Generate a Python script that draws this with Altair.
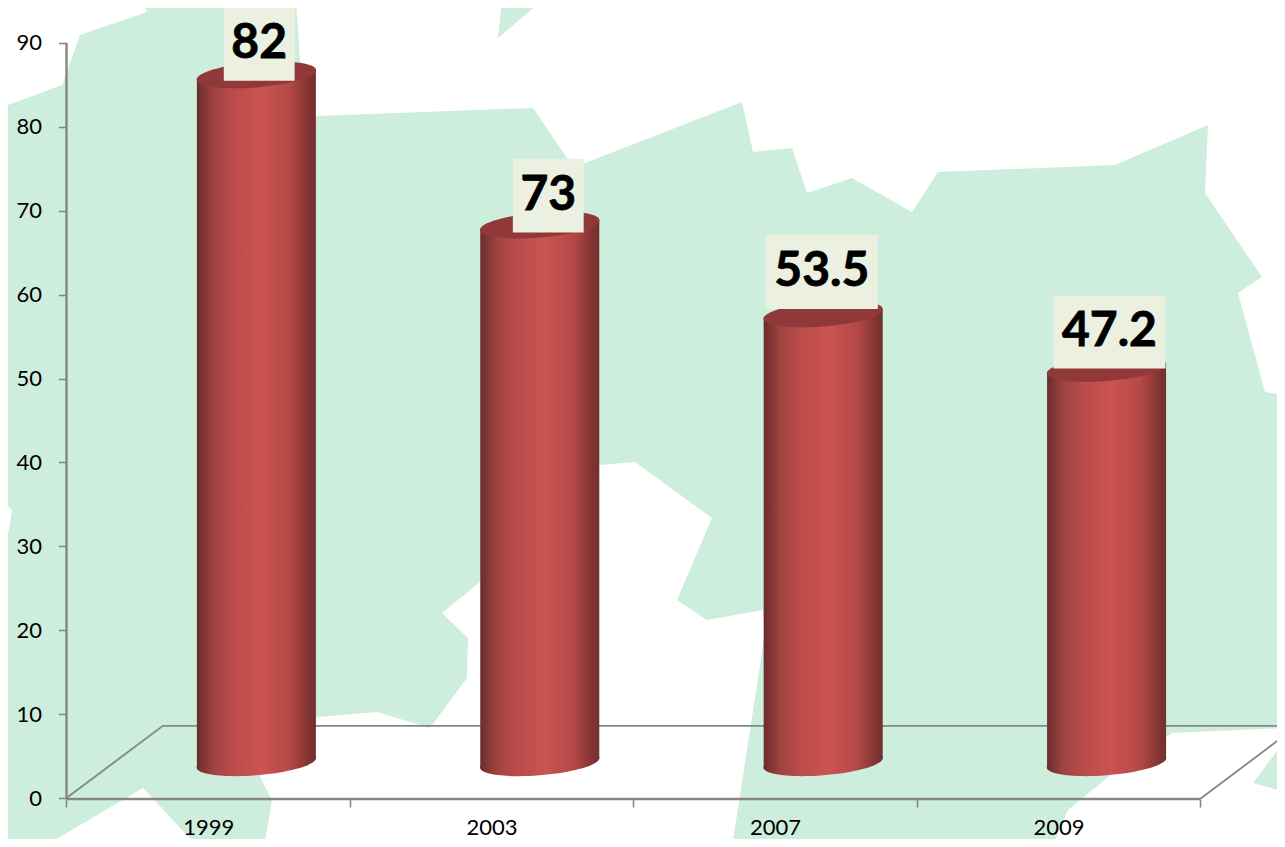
import altair as alt
import pandas as pd

# ---- chart values ----
years = ["1999", "2003", "2007", "2009"]
value_labels = ["82", "73", "53.5", "47.2"]
# drawn height of each cylinder's top on the y axis (the 3D drawing sits above the labels)
cylinder_tops = [86.2, 68.3, 57.7, 51.2]
cylinder_base = 4.2
cylinder_slot = [0.67, 1.67, 2.67, 3.67]  # position along the category axis
label_slot = [0.68, 1.70, 2.665, 3.68]
box_half = [0.125, 0.125, 0.198, 0.198]
box_tops = [94.3, 76.2, 67.1, 59.9]
box_bottoms = [85.5, 67.4, 58.3, 51.2]
y_ticks = [0, 10, 20, 30, 40, 50, 60, 70, 80, 90]
x_ticks = [0, 0.5, 1, 1.5, 2, 2.5, 3, 3.5, 4]

# background map (white parts over the green page), in picture coordinates
white_top_left = [[0, 0], [142, 0], [147, 12], [80, 35], [62, 85], [0, 108]]
white_top = [[296, 0], [502, 0], [498, 38], [543, 0], [1285, 0], [1285, 395], [1265, 392],
             [1238, 293], [1262, 277], [1205, 193], [1208, 125], [1115, 165], [938, 172],
             [912, 212], [852, 178], [807, 193], [792, 148], [753, 152], [742, 102],
             [585, 163], [567, 158], [533, 108], [316, 116], [300, 60]]
white_left = [[0, 498], [12, 510], [3, 565], [0, 566]]
white_bottom_left = [[43, 847], [143, 788], [198, 847]]
white_centre = [[317, 717], [377, 712], [430, 728], [467, 678], [468, 638], [442, 613],
                [480, 582], [600, 465], [635, 462], [712, 518], [677, 600], [707, 620],
                [763, 610], [765, 633], [732, 847], [264, 847], [272, 800], [260, 777]]
white_bottom_right = [[1285, 728], [1172, 733], [1108, 777], [1068, 810], [1052, 847],
                      [1285, 847], [1285, 792], [1253, 783], [1285, 740]]
white_rings = [white_top_left, white_top, white_left, white_bottom_left, white_centre, white_bottom_right]

# floor of the 3D box and the axis lines: [x on the axis, y on the axis] ends
frame_lines = {
    "yaxis": [[0, 0], [0, 90]],
    "xaxis": [[0, -0.12], [4, -0.12]],
    "floor_left": [[0, 0], [0.34, 8.6], [4.3, 8.6]],
    "floor_right": [[4, -0.12], [4.3, 7.5]],
}
frame_widths = {"yaxis": 2.4, "xaxis": 2.4, "floor_left": 1.8, "floor_right": 1.8}

GREEN = "#cdeedc"
AXIS = "#868686"
BODY = {
    "x1": 0, "x2": 1, "y1": 0, "y2": 0, "gradient": "linear",
    "stops": [
        {"offset": 0, "color": "#6b2c2c"},
        {"offset": 0.14, "color": "#a04341"},
        {"offset": 0.3, "color": "#b94c4a"},
        {"offset": 0.54, "color": "#cb5351"},
        {"offset": 0.78, "color": "#b54947"},
        {"offset": 0.95, "color": "#7e3331"},
        {"offset": 1, "color": "#703030"},
    ],
}

PX, PY = 66.5, 798.0   # where 0/0 sits in the picture
UX, UY = 283.4, 8.389  # picture pixels per axis unit
xs = alt.Scale(domain=[(8 - PX) / UX, (1277 - PX) / UX], nice=False, zero=False)
ys = alt.Scale(domain=[(PY - 839) / UY, (PY - 8) / UY], nice=False, zero=False)

x_axis = alt.Axis(
    values=x_ticks, orient="bottom", offset=-40, domain=False, grid=False, title=None, zindex=1,
    tickColor=AXIS, tickWidth=1.6, tickSize=8,
    tickOpacity={"condition": {"test": "datum.value % 1 === 0", "value": 1}, "value": 0},
    labelExpr="datum.value % 1 === 0 ? '' : ['1999','2003','2007','2009'][floor(datum.value)]",
    labelFont="Lato", labelFontSize=22, labelColor="#000000", labelPadding=10,
    labelFlush=False, labelOverlap=False, labelAngle=0,
)
y_axis = alt.Axis(
    values=y_ticks, orient="left", offset=-58.5, domain=False, grid=False, title=None, zindex=1,
    tickColor=AXIS, tickWidth=1.6, tickSize=8,
    labelFont="Lato", labelFontSize=22, labelColor="#000000", labelPadding=17,
    labelFlush=False, labelOverlap=False,
)


def X(field="x"):
    return alt.X(f"{field}:Q", scale=xs, axis=x_axis, title=None)


def Y(field="y"):
    return alt.Y(f"{field}:Q", scale=ys, axis=y_axis, title=None)


half_width = 0.21
tilt = 0.57
k = 0.5523
ux, uy, vy = 1.0, -0.08, 0.21


def cap_path():
    def pt(a, b):
        return f"{a * ux:.4f},{a * uy + b * vy:.4f}"
    quarter = [(1, 0), (1, k), (k, 1), (0, 1), (-k, 1), (-1, k), (-1, 0),
               (-1, -k), (-k, -1), (0, -1), (k, -1), (1, -k), (1, 0)]
    d = "M" + pt(*quarter[0])
    for i in range(1, 13, 3):
        d += "C" + pt(*quarter[i]) + " " + pt(*quarter[i + 1]) + " " + pt(*quarter[i + 2])
    return d + "Z"


# white patches: one symbol whose outline is the traced rings, centred on the picture
CX, CY, R = 640.0, 420.0, 700.0
map_path = "".join(
    "M" + "L".join(f"{(p[0] - CX) / R:.5f},{(p[1] - CY) / R:.5f}" for p in ring) + "Z"
    for ring in white_rings
)
background = alt.Chart(pd.DataFrame({"x": [(CX - PX) / UX], "y": [(PY - CY) / UY]})).mark_point(
    shape=map_path, size=(2 * R) ** 2, filled=True, fill="#ffffff", opacity=1, strokeWidth=0, clip=False
).encode(x=X(), y=Y())

line_rows = [{"name": n, "order": i, "x": p[0], "y": p[1], "w": frame_widths[n]}
             for n, pts in frame_lines.items() for i, p in enumerate(pts)]
lines_df = pd.DataFrame(line_rows)
lines = alt.Chart(lines_df).mark_line(color=AXIS, clip=False).encode(
    x=X(), y=Y(), detail="name:N", order="order:Q",
    strokeWidth=alt.StrokeWidth("w:Q", scale=None, legend=None),
)

body_rows = []
for yr, c, t in zip(years, cylinder_slot, cylinder_tops):
    body_rows.append({"year": yr, "x": c - half_width, "y": t - tilt, "y2": cylinder_base - tilt})
    body_rows.append({"year": yr, "x": c + half_width, "y": t + tilt, "y2": cylinder_base + tilt})
bodies = alt.Chart(pd.DataFrame(body_rows)).mark_area(fill=BODY, orient="vertical", clip=False).encode(
    x=X(), y=Y(), y2=alt.Y2("y2:Q"), detail="year:N"
)

caps = pd.DataFrame({"x": cylinder_slot, "top": cylinder_tops, "base": [cylinder_base] * 4})
bottom_caps = alt.Chart(caps).mark_point(
    shape=cap_path(), size=14280, filled=True, fill=BODY, opacity=1, strokeWidth=0
).encode(x=X(), y=Y("base"))
top_caps = alt.Chart(caps).mark_point(
    shape=cap_path(), size=14280, filled=True, fill="#913939", opacity=1, strokeWidth=0
).encode(x=X(), y=Y("top"))

boxes_df = pd.DataFrame({
    "x": [s - h for s, h in zip(label_slot, box_half)],
    "x2": [s + h for s, h in zip(label_slot, box_half)],
    "y": box_tops, "y2": box_bottoms,
    "cx": label_slot,
    "cy": [(a + b) / 2 for a, b in zip(box_tops, box_bottoms)],
    "label": value_labels,
})
boxes = alt.Chart(boxes_df).mark_rect(fill="#ecf0e1", stroke=None).encode(
    x=X(), x2="x2:Q", y=Y(), y2="y2:Q"
)
texts = alt.Chart(boxes_df).mark_text(
    font="Lato", fontWeight="bold", fontSize=48, color="#000000", stroke="#000000", strokeWidth=0.8,
    align="center", baseline="middle"
).encode(x=X("cx"), y=Y("cy"), text="label:N")

chart = alt.layer(background, lines, bottom_caps, bodies, top_caps, boxes, texts).properties(
    width=1269, height=831, background=GREEN, padding=0,
    autosize=alt.AutoSizeParams(type="none", contains="padding"),
).configure_view(stroke=None)

chart.save("out.html", embed_options={"renderer": "svg", "actions": False})
